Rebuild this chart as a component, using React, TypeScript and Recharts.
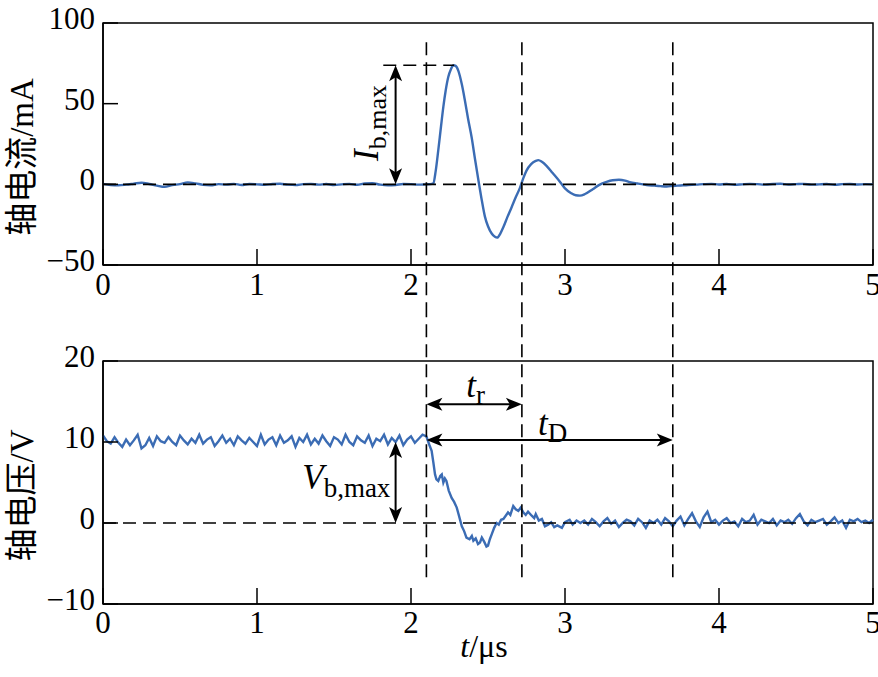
import React from "react";
import {
  LineChart,
  Line,
  XAxis,
  YAxis,
  ReferenceLine,
  ReferenceArea,
  ReferenceDot,
} from "recharts";

// ---- axes ----
const xTicks = [0, 1, 2, 3, 4, 5];
const currentTicks = [-50, 0, 50, 100];
const voltageTicks = [-10, 0, 10, 20];

// ---- 轴电流 (mA) ----
// baseline, one sample every 0.05 µs from 0 to 2.1
const curBaseStep = 0.05;
const curBase = [
  0.3, -0.4, -0.6, -0.2, 0.4, 1.0, 0.2, -0.8, -1.6, -0.5,
  0.1, 1.2, 0.6, -0.3, -0.6, 0.1, -0.2, 0.3, -0.4, 0.2,
  0.0, -0.3, 0.2, 0.4, -0.2, -0.5, 0.1, 0.3, -0.2, 0.2,
  -0.4, 0.0, 0.3, -0.3, 0.5, 0.7, -0.2, -0.6, -0.4, 0.2,
  0.1, -0.2, 0.0,
];
// pulse
const curPulseT = [
  2.125, 2.145, 2.16, 2.177, 2.195, 2.21, 2.225, 2.242, 2.26, 2.275,
  2.29, 2.307, 2.33, 2.35, 2.37, 2.394, 2.415, 2.437, 2.46, 2.48,
  2.5, 2.524, 2.545, 2.56, 2.58, 2.6, 2.625, 2.654, 2.68, 2.708,
  2.73, 2.75, 2.78, 2.81, 2.827, 2.85, 2.88, 2.92, 2.968, 3.0,
  3.04, 3.07, 3.097, 3.13, 3.18, 3.22, 3.27, 3.31, 3.35, 3.39,
  3.42, 3.47, 3.53, 3.58, 3.62, 3.66, 3.7, 3.75, 3.8,
];
const curPulse = [
  0.1, 0.6, 8, 21, 36, 48, 58, 66.5, 71.5, 73.8,
  73.4, 70.5, 62, 52, 41, 29, 16, 3, -10, -20,
  -26, -30.5, -32.5, -33, -30.5, -26.5, -20.5, -14, -8, -2,
  4, 8.5, 12.5, 14.5, 15, 14, 11.5, 7, 1.5, -2.5,
  -5.5, -6.8, -7, -6, -3, -0.5, 1.5, 2.5, 2.8, 2.3,
  1.4, 0.5, -0.4, -0.8, -1.1, -1.3, -1.0, -0.7, -0.4,
];
// tail, every 0.05 µs from 3.85 to 5
const curTailStart = 3.85;
const curTailStep = 0.05;
const curTail = [
  -0.2, 0.1, 0.3, -0.1, 0.2, -0.3, 0.0, 0.3, 0.1, -0.2,
  0.2, 0.4, -0.1, 0.1, 0.3, -0.2, 0.0, 0.2, -0.3, 0.1,
  0.2, -0.1, 0.1, 0.0,
];

// ---- 轴电压 (V) ----
const volBaseStep = 0.025;
const volBase = [
  10.8, 10.1, 9.8, 10.6, 9.9, 9.4, 10.3, 9.6, 10.2, 10.9, 9.2, 9.6,
  10.5, 9.5, 10.7, 10.1, 9.9, 10.6, 10.0, 9.6, 10.8, 10.2, 9.7, 10.4,
  9.9, 10.9, 9.8, 10.3, 10.6, 9.5, 10.1, 10.8, 9.9, 10.4, 9.6, 10.7,
  10.2, 9.8, 10.5, 10.0, 9.5, 10.9, 9.7, 10.3, 10.6, 9.6, 10.8, 9.9,
  10.2, 10.7, 9.4, 10.5, 10.0, 10.9, 9.7, 10.4, 9.8, 10.8, 10.1, 9.5,
  10.6, 10.3, 9.7, 10.9, 10.0, 9.6, 10.7, 10.2, 9.9, 10.8, 9.5, 10.4,
  10.1, 10.9, 9.7, 10.5, 10.0, 10.8, 9.6, 10.3, 10.7, 9.9, 10.4, 10.9,
  10.7,
];
const volPulseT = [
  2.12, 2.134, 2.145, 2.156, 2.165, 2.177, 2.19, 2.2, 2.21, 2.22,
  2.23, 2.245, 2.264, 2.28, 2.297, 2.31, 2.33, 2.345, 2.36, 2.38,
  2.395, 2.405, 2.42, 2.435, 2.448, 2.46, 2.475, 2.49, 2.5, 2.512,
  2.524, 2.54, 2.556, 2.57, 2.585, 2.6, 2.615, 2.63, 2.645, 2.664,
  2.68, 2.697, 2.712, 2.73, 2.745, 2.76, 2.784, 2.8, 2.81, 2.83,
  2.85, 2.87, 2.89, 2.91, 2.93, 2.95, 2.98, 3.0, 3.03, 3.05,
  3.075, 3.1,
];
const volPulse = [
  9.6, 8.9, 7.5, 6.0, 5.4, 5.2, 5.8, 6.0, 5.0, 5.5,
  5.2, 4.0, 3.1, 2.6, 1.9, 1.0, -0.4, -1.0, -1.8, -2.0,
  -1.6, -2.2, -1.9, -2.6, -2.4, -1.8, -2.3, -2.9, -2.8, -2.0,
  -1.4, -0.6, 0.0, -0.2, 0.4, 0.5, 0.9, 1.3, 1.0, 2.1,
  1.7, 1.5, 1.9, 1.3, 1.0, 1.4, 0.9, 0.6, 1.1, 0.3,
  0.5, -0.4, -0.2, 0.1, -0.5, -0.3, -0.6, 0.1, 0.4, -0.2,
  0.3, 0.0,
];
const volTailStart = 3.125;
const volTailStep = 0.025;
const volTail = [
  0.3, -0.2, 0.5, 0.1, -0.4, 0.2, 0.6, -0.1, 0.3, -0.5,
  0.0, 0.4, 0.2, -0.3, 0.5, 0.1, -0.6, 0.3, 0.0, 0.4,
  -0.2, 0.6, 0.2, -0.4, 0.3, 0.8, -0.3, 0.5, 1.2, 0.2,
  -0.5, 0.7, 1.4, 0.1, 0.4, -0.2, 0.3, 0.6, 0.0, 0.2,
  -0.4, 0.5, 0.1, 0.3, 1.0, -0.2, 0.4, 0.2, 0.0, 0.5,
  -0.3, 0.3, 0.1, 0.4, -0.1, 0.6, 1.1, 0.2, -0.3, 0.4,
  0.1, 0.3, 0.5, -0.2, 0.2, 0.7, 0.0, 0.3, -0.6, 0.4,
  0.2, 0.5, 0.1, 0.3, 0.0, 0.4,
];

// ---- annotation values ----
const markTimes = [2.1, 2.72, 3.7];
const iPeak = 73.8;
const iPeakStart = 1.82;
const iPeakTime = 2.28;
const vLevel = 10;
const arrowTime = 1.9;
const trLevel = 14.65;
const tdLevel = 10.25;

const grid = (start: number, step: number, vals: number[]) =>
  vals.map((v, i) => ({ t: +(start + i * step).toFixed(3), v }));
const pairs = (ts: number[], vs: number[]) => ts.map((t, i) => ({ t, v: vs[i] }));

const currentData = [
  ...grid(0, curBaseStep, curBase),
  ...pairs(curPulseT, curPulse),
  ...grid(curTailStart, curTailStep, curTail),
];
const voltageData = [
  ...grid(0, volBaseStep, volBase),
  ...pairs(volPulseT, volPulse),
  ...grid(volTailStart, volTailStep, volTail),
];

const SERIF = "'Liberation Serif', 'Times New Roman', serif";
const CJK = "'Noto Sans CJK SC', sans-serif";
const BLUE = "#3b6cb4";
const DASH = "13 7";
const W = 878;

const fmt = (v: number) => String(v).replace("-", "\u2212");

// tick labels, drawn by hand so the serif font sticks
function XTick({ x, y, payload }: any) {
  return (
    <text x={x} y={y} dy={30} textAnchor="middle" fontSize={31} fill="#000" style={{ fontFamily: SERIF }}>
      {fmt(payload.value)}
    </text>
  );
}
function YTick({ x, y, payload }: any) {
  return (
    <text x={x} y={y} dy={6} textAnchor="end" fontSize={31} fill="#000" style={{ fontFamily: SERIF }}>
      {fmt(payload.value)}
    </text>
  );
}

// double-headed arrow, drawn on a ReferenceLine segment
function ArrowLine(props: any) {
  const { x1, y1, x2, y2 } = props;
  const dx = x2 - x1;
  const dy = y2 - y1;
  const len = Math.hypot(dx, dy) || 1;
  const ux = dx / len;
  const uy = dy / len;
  const px = -uy;
  const py = ux;
  const L = 16;
  const H = 6.5;
  const head = (tx: number, ty: number, s: number) => {
    const bx = tx - s * ux * L;
    const by = ty - s * uy * L;
    const nx = tx - s * ux * L * 0.75;
    const ny = ty - s * uy * L * 0.75;
    return `${tx},${ty} ${bx + px * H},${by + py * H} ${nx},${ny} ${bx - px * H},${by - py * H}`;
  };
  return (
    <g>
      <line
        x1={x1 + ux * L * 0.7}
        y1={y1 + uy * L * 0.7}
        x2={x2 - ux * L * 0.7}
        y2={y2 - uy * L * 0.7}
        stroke="#000"
        strokeWidth={2}
      />
      <polygon points={head(x2, y2, 1)} fill="#000" />
      <polygon points={head(x1, y1, -1)} fill="#000" />
    </g>
  );
}

// symbol with subscript, e.g. I_b,max
function SymLabel({ cx, cy, main, sub, size = 32, subSize = 25, rotate = false }: any) {
  return (
    <text
      x={cx}
      y={cy + size * 0.3}
      textAnchor="middle"
      fontSize={size}
      fill="#000"
      style={{ fontFamily: SERIF }}
      transform={rotate ? `rotate(-90 ${cx} ${cy})` : undefined}
    >
      <tspan fontStyle="italic">{main}</tspan>
      <tspan fontSize={subSize} dy={size * 0.22}>
        {sub}
      </tspan>
    </text>
  );
}

function YTitle({ viewBox, cjk, unit }: any) {
  const vb = viewBox || { x: 0, y: 0, width: 103, height: 242 };
  const cx = vb.x + 22;
  const cy = vb.y + vb.height / 2 + 13;
  return (
    <text
      x={cx}
      y={cy + 11}
      textAnchor="middle"
      fontSize={33}
      fill="#000"
      transform={`rotate(-90 ${cx} ${cy})`}
    >
      <tspan style={{ fontFamily: CJK }}>{cjk}</tspan>
      <tspan style={{ fontFamily: SERIF }}>{unit}</tspan>
    </text>
  );
}

function XTitle({ viewBox }: any) {
  const vb = viewBox || { x: 103, y: 294, width: 770, height: 30 };
  return (
    <text
      x={vb.x + vb.width / 2 - 4}
      y={vb.y + 53}
      textAnchor="middle"
      fontSize={32}
      fill="#000"
      style={{ fontFamily: SERIF }}
    >
      <tspan fontStyle="italic">t</tspan>
      <tspan>/μs</tspan>
    </text>
  );
}

const axisCommon = {
  stroke: "#000",
  strokeWidth: 1.5,
};

export default function App() {
  return (
    <div
      style={{
        position: "absolute",
        left: 0,
        top: 0,
        width: W,
        height: 677,
        background: "#fff",
        fontFamily: SERIF,
      }}
    >
      {/* 轴电流 */}
      <LineChart
        width={W}
        height={310}
        data={currentData}
        margin={{ top: 23, right: 5, bottom: 15, left: 0 }}
      >
        <XAxis
          dataKey="t"
          type="number"
          domain={[0, 5]}
          ticks={xTicks}
          interval={0}
          height={30}
          tickSize={-16}
          tickMargin={16}
          tick={<XTick />}
          {...axisCommon}
        />
        <YAxis
          type="number"
          domain={[-50, 100]}
          ticks={currentTicks}
          interval={0}
          width={103}
          tickSize={-15}
          tickMargin={23}
          tick={<YTick />}
          {...axisCommon}
          label={{ content: (p: any) => <YTitle viewBox={p.viewBox} cjk="轴电流" unit="/mA" /> }}
        />
        <ReferenceArea
          x1={0}
          x2={5}
          y1={-50}
          y2={100}
          fill="none"
          fillOpacity={0}
          stroke="#000"
          strokeWidth={1.5}
        />
        <Line
          type="monotone"
          dataKey="v"
          stroke={BLUE}
          strokeWidth={2.4}
          dot={false}
          isAnimationActive={false}
        />
        <ReferenceLine y={0} stroke="#000" strokeWidth={1.6} strokeDasharray={DASH} />
        <ReferenceLine
          segment={[
            { x: iPeakStart, y: iPeak },
            { x: iPeakTime, y: iPeak },
          ]}
          stroke="#000"
          strokeWidth={1.6}
          strokeDasharray={DASH}
          ifOverflow="visible"
        />
        {markTimes.map((t) => (
          <ReferenceLine
            key={t}
            segment={[
              { x: t, y: 88 },
              { x: t, y: -85 },
            ]}
            stroke="#000"
            strokeWidth={1.6}
            strokeDasharray={DASH}
            ifOverflow="visible"
          />
        ))}
        <ReferenceLine
          segment={[
            { x: arrowTime, y: iPeak },
            { x: arrowTime, y: 0 },
          ]}
          ifOverflow="visible"
          shape={ArrowLine}
        />
        <ReferenceDot
          x={1.72}
          y={38}
          r={0}
          ifOverflow="visible"
          shape={(p: any) => (
            <SymLabel cx={p.cx} cy={p.cy} main="I" sub="b,max" rotate size={35} subSize={26} />
          )}
        />
      </LineChart>

      {/* 轴电压 */}
      <LineChart
        width={W}
        height={367}
        data={voltageData}
        margin={{ top: 51, right: 5, bottom: 43, left: 0 }}
      >
        <XAxis
          dataKey="t"
          type="number"
          domain={[0, 5]}
          ticks={xTicks}
          interval={0}
          height={30}
          tickSize={-16}
          tickMargin={15}
          tick={<XTick />}
          {...axisCommon}
          label={{ content: (p: any) => <XTitle viewBox={p.viewBox} /> }}
        />
        <YAxis
          type="number"
          domain={[-10, 20]}
          ticks={voltageTicks}
          interval={0}
          width={103}
          tickSize={-15}
          tickMargin={23}
          tick={<YTick />}
          {...axisCommon}
          label={{ content: (p: any) => <YTitle viewBox={p.viewBox} cjk="轴电压" unit="/V" /> }}
        />
        <ReferenceArea
          x1={0}
          x2={5}
          y1={-10}
          y2={20}
          fill="none"
          fillOpacity={0}
          stroke="#000"
          strokeWidth={1.5}
        />
        <Line
          type="linear"
          dataKey="v"
          stroke={BLUE}
          strokeWidth={2.4}
          dot={false}
          isAnimationActive={false}
        />
        <ReferenceLine y={0} stroke="#000" strokeWidth={1.6} strokeDasharray={DASH} />
        {markTimes.map((t) => (
          <ReferenceLine
            key={t}
            segment={[
              { x: t, y: 27 },
              { x: t, y: -7.5 },
            ]}
            stroke="#000"
            strokeWidth={1.6}
            strokeDasharray={DASH}
            ifOverflow="visible"
          />
        ))}
        <ReferenceLine
          segment={[
            { x: arrowTime, y: vLevel },
            { x: arrowTime, y: 0 },
          ]}
          ifOverflow="visible"
          shape={ArrowLine}
        />
        <ReferenceLine
          segment={[
            { x: markTimes[0], y: trLevel },
            { x: markTimes[1], y: trLevel },
          ]}
          ifOverflow="visible"
          shape={ArrowLine}
        />
        <ReferenceLine
          segment={[
            { x: markTimes[0], y: tdLevel },
            { x: markTimes[2], y: tdLevel },
          ]}
          ifOverflow="visible"
          shape={ArrowLine}
        />
        <ReferenceDot
          x={1.58}
          y={5.5}
          r={0}
          ifOverflow="visible"
          shape={(p: any) => (
            <SymLabel cx={p.cx} cy={p.cy} main="V" sub="b,max" size={35} subSize={27} />
          )}
        />
        <ReferenceDot
          x={2.42}
          y={16.9}
          r={0}
          ifOverflow="visible"
          shape={(p: any) => <SymLabel cx={p.cx} cy={p.cy} main="t" sub="r" size={35} subSize={27} />}
        />
        <ReferenceDot
          x={2.92}
          y={12.2}
          r={0}
          ifOverflow="visible"
          shape={(p: any) => <SymLabel cx={p.cx} cy={p.cy} main="t" sub="D" size={35} subSize={27} />}
        />
      </LineChart>
    </div>
  );
}
